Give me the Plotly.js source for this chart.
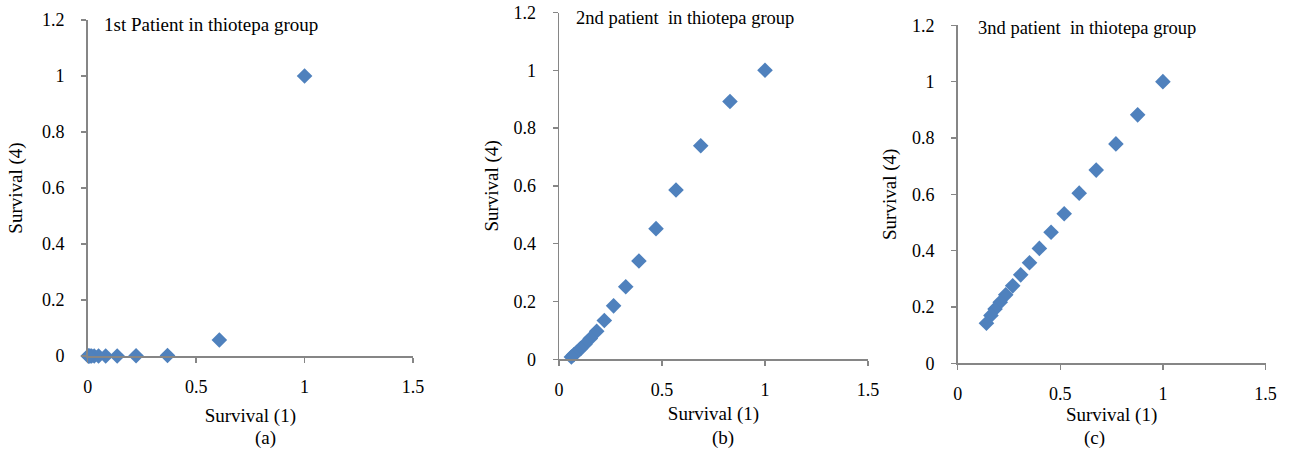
<!DOCTYPE html>
<html>
<head>
<meta charset="utf-8">
<script src="https://cdn.plot.ly/plotly-3.0.1.min.js"></script>
<style>
html,body{margin:0;padding:0;background:#fff;}
#chart{width:1290px;height:453px;}
</style>
</head>
<body>
<div id="chart"></div>
<script>
// Panel (a): 1st patient
const xA = [1, 0.607, 0.368, 0.223, 0.136, 0.083, 0.05, 0.03, 0.018, 0.011, 0.007, 0.004, 0.002];
const yA = [1, 0.057, 0.002, 0.001, 0, 0, 0, 0, 0, 0, 0, 0, 0];
// Panel (b): 2nd patient
const xB = [1, 0.83, 0.688, 0.568, 0.471, 0.388, 0.324, 0.265, 0.22, 0.183, 0.152, 0.126, 0.105, 0.087, 0.072, 0.06];
const yB = [1, 0.892, 0.739, 0.586, 0.452, 0.34, 0.251, 0.185, 0.134, 0.097, 0.072, 0.052, 0.037, 0.025, 0.016, 0.008];
// Panel (c): 3rd patient
const xC = [1, 0.877, 0.771, 0.675, 0.592, 0.519, 0.455, 0.398, 0.35, 0.307, 0.268, 0.234, 0.207, 0.182, 0.162, 0.14];
const yC = [1, 0.882, 0.779, 0.686, 0.604, 0.531, 0.465, 0.408, 0.357, 0.314, 0.275, 0.243, 0.217, 0.193, 0.17, 0.142];

const panelTitles = ["1st Patient in thiotepa group", "2nd patient  in thiotepa group", "3nd patient  in thiotepa group"];
const panelLabels = ["(a)", "(b)", "(c)"];
const xTitle = "Survival (1)";
const yTitle = "Survival (4)";

const FONT = "'Liberation Serif', 'Times New Roman', serif";
const BLUE = "#4F81BD";
const AXC = "#868686";

function trace(x, y, xa, ya) {
  return {
    x: x, y: y, xaxis: xa, yaxis: ya, type: "scatter", mode: "markers",
    cliponaxis: false, hoverinfo: "skip",
    marker: {symbol: "diamond", size: 12, color: BLUE, line: {width: 0}}
  };
}

function xax(domain, anchor, standoff) {
  return {
    domain: domain, anchor: anchor, range: [0, 1.5], dtick: 0.5, tick0: 0,
    showline: true, linecolor: AXC, linewidth: 1.5, ticks: "outside", ticklen: 5,
    tickcolor: AXC, tickwidth: 1.5, showgrid: false, zeroline: false,
    ticklabelstandoff: 9,
    tickfont: {family: FONT, size: 18, color: "#000"},
    title: {text: xTitle, font: {family: FONT, size: 19, color: "#000"}, standoff: standoff},
    fixedrange: true
  };
}
function yax(domain, anchor, standoff) {
  return {
    domain: domain, anchor: anchor, range: [0, 1.2], dtick: 0.2, tick0: 0,
    showline: true, linecolor: AXC, linewidth: 1.5, ticks: "outside", ticklen: 5,
    tickcolor: AXC, tickwidth: 1.5, showgrid: false, zeroline: false,
    ticklabelstandoff: 13,
    tickfont: {family: FONT, size: 18, color: "#000"},
    title: {text: yTitle, font: {family: FONT, size: 19, color: "#000"}, standoff: standoff},
    fixedrange: true
  };
}

const data = [
  trace(xA, yA, "x", "y"),
  trace(xB, yB, "x2", "y2"),
  trace(xC, yC, "x3", "y3")
];

const W = 1290, H = 453;
function px2x(p) { return p / W; }
function px2y(p) { return 1 - p / H; }

const ann = [];
const titlePos = [[101.7, 25], [574, 18.3], [975.7, 28.3]];
const titleSize = [19, 18.5, 18.5];
const labelPos = [[265.7, 438], [723.3, 438], [1094.3, 437.7]];
for (let i = 0; i < 3; i++) {
  ann.push({
    text: panelTitles[i], xref: "paper", yref: "paper",
    x: px2x(titlePos[i][0]), y: px2y(titlePos[i][1]),
    xanchor: "left", yanchor: "middle", showarrow: false,
    font: {family: FONT, size: titleSize[i], color: "#000"}
  });
  ann.push({
    text: panelLabels[i], xref: "paper", yref: "paper",
    x: px2x(labelPos[i][0]), y: px2y(labelPos[i][1]),
    xanchor: "center", yanchor: "middle", showarrow: false,
    font: {family: FONT, size: 19, color: "#000"}
  });
}

const layout = {
  width: W, height: H,
  margin: {l: 0, r: 0, t: 0, b: 0},
  paper_bgcolor: "#fff", plot_bgcolor: "rgba(0,0,0,0)",
  showlegend: false,
  xaxis: xax([87.7 / W, 413 / W], "y", 12),
  yaxis: yax([1 - 356 / H, 1 - 20 / H], "x", 14),
  xaxis2: xax([559 / W, 868 / W], "y2", 7),
  yaxis2: yax([1 - 359.3 / H, 1 - 12.5 / H], "x2", 9),
  xaxis3: xax([957.7 / W, 1265.5 / W], "y3", 2),
  yaxis3: yax([1 - 363.3 / H, 1 - 25.3 / H], "x3", 10),
  annotations: ann
};

Plotly.newPlot("chart", data, layout, {displayModeBar: false, staticPlot: true});
</script>
</body>
</html>
